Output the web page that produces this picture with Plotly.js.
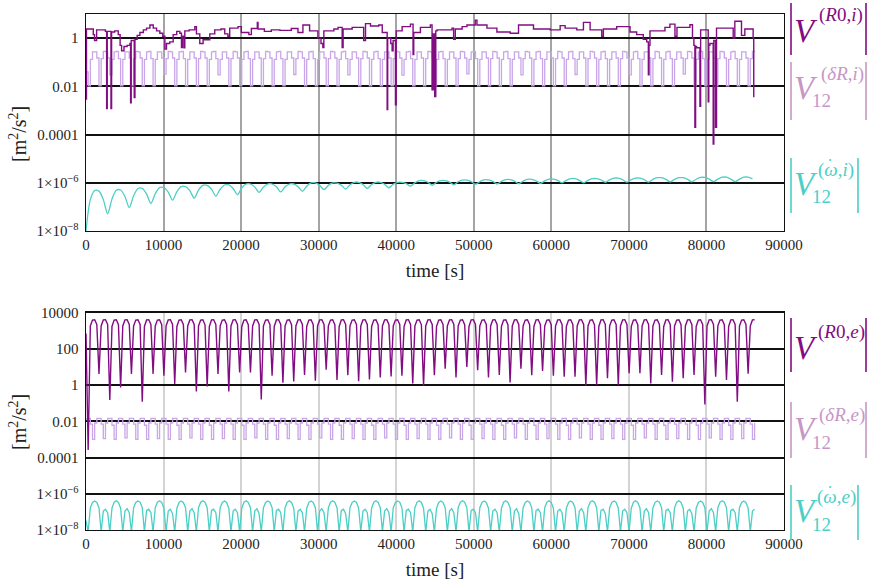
<!DOCTYPE html>
<html><head><meta charset="utf-8">
<script src="https://cdn.plot.ly/plotly-3.0.1.min.js"></script>
<style>html,body{margin:0;padding:0;background:#fff;}#chart{width:869px;height:583px;}</style>
</head><body><div id="chart"></div>
<script>
// ---------------- data ----------------
// sampling interval of the regularly sampled series [s]
const DT_FAST = 279;
const DT_SLOW = 558;

// top panel: |V^(R0,i)| (irregular times, stepped)
const tR0i = [0,60,940,1100,1370,2230,2500,2660,2740,3220,3300,3700,4160,4400,4590,4900,5300,5660,5750,5830,6220,6310,6600,6950,7400,7810,8240,8670,9100,9520,9900,10170,10380,10800,11240,11700,12100,12310,12450,12650,12740,13300,14030,14240,14670,15100,15960,16600,17400,17890,18300,18530,19600,20030,21000,21320,22090,22180,23000,23890,25000,26470,27330,27970,28830,29900,30300,30540,30670,31960,32500,33030,33150,34320,35390,35800,36040,36680,37750,38200,38830,38900,39300,39470,39600,39900,40000,40760,41830,42170,42260,43120,44400,44620,44800,44960,45100,45260,47190,47400,47620,48500,49120,50190,50410,51700,52980,54700,55770,57700,59850,61140,61780,63280,64140,65000,66500,66710,68430,70150,71000,71860,72300,72510,72600,72720,74650,75290,75940,76200,77870,78200,78380,78510,78600,78730,79160,79250,80010,80230,80300,80440,80870,80950,81170,81300,82160,83450,83660,84520,84950,86020,86100];
const vR0i = [0.003,2.4,1.4,0.8,2.2,2.2,1.9,0.0012,1.9,0.0012,1.8,2.0,1.4,0.5,0.3,0.45,0.5,0.6,0.0021,0.8,0.0034,0.9,1.3,1.7,2.2,2.6,3.5,2.6,2.0,1.6,1.2,0.35,0.6,0.7,1.4,1.9,1.6,0.41,1.2,0.4,2.0,2.2,3.0,1.5,0.6,0.85,1.5,2.2,2.4,1.5,1.2,2.6,3.0,1.7,1.4,2.5,4.5,2.4,1.9,2.2,2.1,2.5,1.7,3.5,2.0,1.0,0.6,0.41,2.0,2.4,2.8,0.41,2.4,2.8,2.8,0.8,4.0,3.2,3.5,1.7,0.0011,1.0,0.6,0.3,0.8,0.0017,2.0,3.0,3.8,0.21,1.7,2.8,3.5,0.0072,1.5,0.0038,2.0,2.2,2.6,0.9,2.4,3.0,3.5,5.5,3.5,2.6,1.8,1.6,3.5,2.4,2.2,3.3,2.6,2.2,4.5,2.2,1.2,2.4,3.0,1.8,1.4,0.9,0.7,0.03,0.5,2.0,2.8,3.8,1.2,2.8,3.6,1.0,0.5,0.0002,0.45,0.4,0.0015,2.2,2.2,0.0023,0.5,0.6,0.00004,0.8,0.0002,2.6,2.6,1.0,5.0,1.3,2.4,1.0,0.0035];

// top panel: |V12^(dR,i)| sampled every DT_FAST
const vdRi = [0.04,
0.0105,0.13,0.27,0.27,0.15, 0.0105,0.14,0.28,0.27,0.15, 0.03,0.13,0.27,0.28,0.14, 0.0105,0.13,0.27,0.27,0.15,
0.0105,0.14,0.28,0.27,0.15, 0.0105,0.13,0.27,0.28,0.14, 0.0105,0.13,0.27,0.27,0.15, 0.032,0.14,0.28,0.27,0.15,
0.0105,0.13,0.27,0.28,0.14, 0.0105,0.13,0.27,0.27,0.15, 0.0105,0.14,0.28,0.27,0.15, 0.0105,0.13,0.27,0.28,0.14,
0.03,0.13,0.27,0.27,0.15, 0.0105,0.14,0.28,0.27,0.15, 0.0105,0.13,0.27,0.28,0.14, 0.0105,0.13,0.27,0.27,0.15,
0.0105,0.14,0.28,0.27,0.15, 0.0105,0.13,0.27,0.28,0.14, 0.0105,0.13,0.27,0.27,0.15, 0.031,0.14,0.28,0.27,0.15,
0.0105,0.13,0.27,0.28,0.14, 0.0105,0.13,0.27,0.27,0.15, 0.0105,0.14,0.28,0.27,0.15, 0.0105,0.13,0.27,0.28,0.14,
0.03,0.13,0.27,0.27,0.15, 0.0105,0.14,0.28,0.27,0.15, 0.0105,0.13,0.27,0.28,0.14, 0.0105,0.13,0.27,0.27,0.15,
0.0105,0.14,0.28,0.27,0.15, 0.029,0.13,0.27,0.28,0.14, 0.0105,0.13,0.27,0.27,0.15, 0.0105,0.14,0.28,0.27,0.15,
0.0105,0.13,0.27,0.28,0.14, 0.0105,0.13,0.27,0.27,0.15, 0.0105,0.14,0.28,0.27,0.15, 0.033,0.13,0.27,0.28,0.14,
0.0105,0.13,0.27,0.27,0.15, 0.0105,0.14,0.28,0.27,0.15, 0.0105,0.13,0.27,0.28,0.14, 0.0105,0.13,0.27,0.27,0.15,
0.03,0.14,0.28,0.27,0.15, 0.0105,0.13,0.27,0.28,0.14, 0.0105,0.13,0.27,0.27,0.15, 0.0105,0.14,0.28,0.27,0.15,
0.0105,0.13,0.27,0.28,0.14, 0.031,0.13,0.27,0.27,0.15, 0.0105,0.14,0.28,0.27,0.15, 0.0105,0.13,0.27,0.28,0.14,
0.0105,0.13,0.27,0.27,0.15, 0.0105,0.14,0.28,0.27,0.15, 0.03,0.13,0.27,0.28,0.14, 0.0105,0.13,0.27,0.27,0.15,
0.0105,0.14,0.28,0.27,0.15, 0.0105,0.13,0.27,0.28,0.14, 0.0105,0.13,0.27,0.27,0.15, 0.032,0.14,0.28,0.27,0.15,
0.0105,0.13,0.27,0.28,0.14, 0.0105,0.13,0.27,0.27,0.15, 0.0105,0.14,0.28,0.27,0.15, 0.0105,0.13,0.27,0.28,0.14,
0.0105,0.13,0.27,0.27,0.15, 0.0105,0.14,0.28,0.27];

// top panel: |V12^(w,i)| sampled every DT_SLOW
const vwI = [1e-8,2.0e-7,4.8e-7,4.5e-7,2.0e-7,
5.2e-8,2.1e-7,4.9e-7,5.0e-7,2.7e-7, 9.3e-8,2.9e-7,5.8e-7,5.9e-7,3.4e-7,
1.4e-7,3.5e-7,6.3e-7,6.3e-7,4.1e-7, 1.9e-7,4.3e-7,6.9e-7,6.9e-7,4.7e-7,
2.3e-7,5.0e-7,7.8e-7,7.8e-7,5.4e-7, 2.8e-7,5.4e-7,8.1e-7,8.1e-7,5.8e-7,
3.2e-7,6.2e-7,8.9e-7,8.9e-7,6.6e-7, 4.0e-7,6.6e-7,8.9e-7,8.9e-7,6.8e-7,
4.2e-7,6.8e-7,8.9e-7,8.9e-7,6.9e-7, 4.4e-7,7.2e-7,9.8e-7,9.8e-7,7.8e-7,
5.2e-7,7.8e-7,9.8e-7,9.7e-7,7.9e-7, 5.5e-7,8.3e-7,1.05e-6,1.05e-6,8.5e-7,
5.8e-7,8.5e-7,1.05e-6,1.05e-6,8.7e-7, 6.2e-7,8.7e-7,1.05e-6,1.05e-6,9.3e-7,
7.2e-7,1.0e-6,1.23e-6,1.23e-6,1.05e-6, 7.9e-7,1.05e-6,1.23e-6,1.23e-6,1.07e-6,
8.3e-7,1.1e-6,1.29e-6,1.29e-6,1.12e-6, 8.7e-7,1.12e-6,1.32e-6,1.32e-6,1.15e-6,
8.9e-7,1.15e-6,1.35e-6,1.35e-6,1.17e-6, 9.1e-7,1.17e-6,1.38e-6,1.38e-6,1.2e-6,
9.5e-7,1.2e-6,1.41e-6,1.41e-6,1.26e-6, 1.0e-6,1.26e-6,1.48e-6,1.48e-6,1.26e-6,
1.0e-6,1.26e-6,1.48e-6,1.48e-6,1.32e-6, 1.05e-6,1.32e-6,1.55e-6,1.55e-6,1.35e-6,
1.07e-6,1.35e-6,1.55e-6,1.55e-6,1.35e-6, 1.07e-6,1.38e-6,1.62e-6,1.62e-6,1.38e-6,
1.1e-6,1.38e-6,1.62e-6,1.62e-6,1.38e-6, 1.1e-6,1.4e-6,1.66e-6,1.66e-6,1.41e-6,
1.12e-6,1.41e-6,1.7e-6,1.7e-6,1.41e-6, 1.12e-6,1.41e-6,1.7e-6,1.7e-6,1.45e-6];

// bottom panel: |V^(R0,e)| sampled every DT_FAST
const vR0e = [700,
0.00026,1800,3800,4000,2200, 4.1,1800,3900,4000,2200, 0.15,1700,3800,4000,2100, 0.74,1800,3900,4000,2200,
4.1,1800,3800,4000,2200, 0.12,1700,3900,4000,2200, 4.1,1800,3800,4000,2100, 3.2,1800,3900,4000,2200,
1.15,1700,3800,4000,2200, 4.9,1800,3900,4000,2200, 0.44,1800,3800,4000,2100, 0.82,1700,3900,4000,2200,
4.1,1800,3800,4000,2200, 0.44,1800,3900,4000,2200, 4.9,1700,3800,4000,2100, 4.9,1800,3900,4000,2200,
0.16,1800,3800,4000,2200, 3.2,1700,3900,4000,2200, 1.35,1800,3800,4000,2100, 1.55,1800,3900,4000,2200,
3.6,1700,3800,4000,2200, 1.7,1800,3900,4000,2200, 6.9,1800,3800,4000,2100, 1.9,1700,3900,4000,2200,
3.5,1800,3800,4000,2200, 1.6,1800,3900,4000,2200, 2.0,1700,3800,4000,2100, 2.6,1800,3900,4000,2200,
3.0,1800,3800,4000,2200, 3.3,1700,3900,4000,2200, 1.2,1800,3800,4000,2100, 0.9,1800,3900,4000,2200,
3.5,1700,3800,4000,2200, 8,1800,3900,4000,2200, 2.6,1800,3800,4000,2100, 10,1700,3900,4000,2200,
6.5,1800,3800,4000,2200, 2.6,1800,3900,4000,2200, 3.6,1700,3800,4000,2100, 1.4,1800,3900,4000,2200,
8,1800,3800,4000,2200, 3.5,1700,3900,4000,2200, 6,1800,3800,4000,2100, 3.2,1800,3900,4000,2200,
2.9,1700,3800,4000,2200, 2.9,1800,3900,4000,2200, 0.9,1800,3800,4000,2100, 1.0,1700,3900,4000,2200,
2.4,1800,3800,4000,2200, 1.0,1800,3900,4000,2200, 4.5,1700,3800,4000,2100, 4.5,1800,3900,4000,2200,
1.2,1800,3800,4000,2200, 3.6,1700,3900,4000,2200, 1.5,1800,3800,4000,2100, 2.4,1800,3900,4000,2200,
3.6,1700,3800,4000,2200, 0.083,1800,3900,4000,2200, 2.9,1800,3800,4000,2100, 1.9,1700,3900,4000,2200,
0.12,1800,3800,4000,2200, 4.2,1800,3900,4000];

// bottom panel: |V12^(dR,e)| sampled every DT_FAST
const vdRe = [0.014,
0.0145,0.007,0.001,0.008,0.0145, 0.0145,0.007,0.0011,0.008,0.0145, 0.0145,0.006,0.001,0.008,0.0145, 0.0145,0.007,0.0012,0.008,0.0145,
0.0145,0.007,0.001,0.008,0.0145, 0.0145,0.006,0.001,0.008,0.0145, 0.0145,0.007,0.0011,0.008,0.0145, 0.0145,0.007,0.001,0.008,0.0145,
0.0145,0.006,0.001,0.008,0.0145, 0.0145,0.007,0.0012,0.008,0.0145, 0.0145,0.007,0.001,0.008,0.0145, 0.0145,0.006,0.001,0.008,0.0145,
0.0145,0.007,0.0011,0.008,0.0145, 0.0145,0.007,0.001,0.008,0.0145, 0.0145,0.006,0.001,0.008,0.0145, 0.0145,0.007,0.0012,0.008,0.0145,
0.0145,0.007,0.001,0.008,0.0145, 0.0145,0.006,0.001,0.008,0.0145, 0.0145,0.007,0.0011,0.008,0.0145, 0.0145,0.007,0.001,0.008,0.0145,
0.0145,0.006,0.001,0.008,0.0145, 0.0145,0.007,0.0012,0.008,0.0145, 0.0145,0.007,0.001,0.008,0.0145, 0.0145,0.006,0.001,0.008,0.0145,
0.0145,0.007,0.0011,0.008,0.0145, 0.0145,0.007,0.001,0.008,0.0145, 0.0145,0.006,0.001,0.008,0.0145, 0.0145,0.007,0.0012,0.008,0.0145,
0.0145,0.007,0.001,0.008,0.0145, 0.0145,0.006,0.001,0.008,0.0145, 0.0145,0.007,0.0011,0.008,0.0145, 0.0145,0.007,0.001,0.008,0.0145,
0.0145,0.006,0.001,0.008,0.0145, 0.0145,0.007,0.0012,0.008,0.0145, 0.0145,0.007,0.001,0.008,0.0145, 0.0145,0.006,0.001,0.008,0.0145,
0.0145,0.007,0.0011,0.008,0.0145, 0.0145,0.007,0.001,0.008,0.0145, 0.0145,0.006,0.001,0.008,0.0145, 0.0145,0.007,0.0012,0.008,0.0145,
0.0145,0.007,0.001,0.008,0.0145, 0.0145,0.006,0.001,0.008,0.0145, 0.0145,0.007,0.0011,0.008,0.0145, 0.0145,0.007,0.001,0.008,0.0145,
0.0145,0.006,0.001,0.008,0.0145, 0.0145,0.007,0.0012,0.008,0.0145, 0.0145,0.007,0.001,0.008,0.0145, 0.0145,0.006,0.001,0.008,0.0145,
0.0145,0.007,0.0011,0.008,0.0145, 0.0145,0.007,0.001,0.008,0.0145, 0.0145,0.006,0.001,0.008,0.0145, 0.0145,0.007,0.0012,0.008,0.0145,
0.0145,0.007,0.001,0.008,0.0145, 0.0145,0.006,0.001,0.008,0.0145, 0.0145,0.007,0.0011,0.008,0.0145, 0.0145,0.007,0.001,0.008,0.0145,
0.0145,0.006,0.001,0.008,0.0145, 0.0145,0.007,0.0012,0.008,0.0145, 0.0145,0.007,0.001,0.008,0.0145, 0.0145,0.006,0.001,0.008,0.0145,
0.0145,0.007,0.0011,0.008,0.0145, 0.0145,0.007,0.001,0.008];

// bottom panel: |V12^(w,e)| sampled every DT_FAST
const vwE = [3.3e-8,
8e-9,1.7e-7,3.3e-7,4.0e-7,3.3e-7,1.7e-7,8e-9,1.1e-7,1.4e-7,9e-8,
8e-9,1.6e-7,3.4e-7,4.1e-7,3.3e-7,1.6e-7,8e-9,1.1e-7,1.5e-7,9e-8,
8e-9,1.7e-7,3.3e-7,4.0e-7,3.4e-7,1.7e-7,8e-9,1.2e-7,1.4e-7,9e-8,
8e-9,1.7e-7,3.4e-7,4.1e-7,3.3e-7,1.6e-7,8e-9,1.1e-7,1.4e-7,8e-8,
8e-9,1.6e-7,3.3e-7,4.0e-7,3.3e-7,1.7e-7,8e-9,1.1e-7,1.5e-7,9e-8,
8e-9,1.7e-7,3.4e-7,4.1e-7,3.4e-7,1.7e-7,8e-9,1.2e-7,1.4e-7,9e-8,
8e-9,1.7e-7,3.3e-7,4.0e-7,3.3e-7,1.6e-7,8e-9,1.1e-7,1.4e-7,9e-8,
8e-9,1.6e-7,3.4e-7,4.1e-7,3.3e-7,1.7e-7,8e-9,1.1e-7,1.5e-7,8e-8,
8e-9,1.7e-7,3.3e-7,4.0e-7,3.4e-7,1.7e-7,8e-9,1.2e-7,1.4e-7,9e-8,
8e-9,1.7e-7,3.4e-7,4.1e-7,3.3e-7,1.6e-7,8e-9,1.1e-7,1.4e-7,9e-8,
8e-9,1.6e-7,3.3e-7,4.0e-7,3.3e-7,1.7e-7,8e-9,1.1e-7,1.5e-7,9e-8,
8e-9,1.7e-7,3.4e-7,4.1e-7,3.4e-7,1.7e-7,8e-9,1.2e-7,1.4e-7,8e-8,
8e-9,1.7e-7,3.3e-7,4.0e-7,3.3e-7,1.6e-7,8e-9,1.1e-7,1.4e-7,9e-8,
8e-9,1.6e-7,3.4e-7,4.1e-7,3.3e-7,1.7e-7,8e-9,1.1e-7,1.5e-7,9e-8,
8e-9,1.7e-7,3.3e-7,4.0e-7,3.4e-7,1.7e-7,8e-9,1.2e-7,1.4e-7,9e-8,
8e-9,1.7e-7,3.4e-7,4.1e-7,3.3e-7,1.6e-7,8e-9,1.1e-7,1.4e-7,8e-8,
8e-9,1.6e-7,3.3e-7,4.0e-7,3.3e-7,1.7e-7,8e-9,1.1e-7,1.5e-7,9e-8,
8e-9,1.7e-7,3.4e-7,4.1e-7,3.4e-7,1.7e-7,8e-9,1.2e-7,1.4e-7,9e-8,
8e-9,1.7e-7,3.3e-7,4.0e-7,3.3e-7,1.6e-7,8e-9,1.1e-7,1.4e-7,9e-8,
8e-9,1.6e-7,3.4e-7,4.1e-7,3.3e-7,1.7e-7,8e-9,1.1e-7,1.5e-7,8e-8,
8e-9,1.7e-7,3.3e-7,4.0e-7,3.4e-7,1.7e-7,8e-9,1.2e-7,1.4e-7,9e-8,
8e-9,1.7e-7,3.4e-7,4.1e-7,3.3e-7,1.6e-7,8e-9,1.1e-7,1.4e-7,9e-8,
8e-9,1.6e-7,3.3e-7,4.0e-7,3.3e-7,1.7e-7,8e-9,1.1e-7,1.5e-7,9e-8,
8e-9,1.7e-7,3.4e-7,4.1e-7,3.4e-7,1.7e-7,8e-9,1.2e-7,1.4e-7,8e-8,
8e-9,1.7e-7,3.3e-7,4.0e-7,3.3e-7,1.6e-7,8e-9,1.1e-7,1.4e-7,9e-8,
8e-9,1.6e-7,3.4e-7,4.1e-7,3.3e-7,1.7e-7,8e-9,1.1e-7,1.5e-7,9e-8,
8e-9,1.7e-7,3.3e-7,4.0e-7,3.4e-7,1.7e-7,8e-9,1.2e-7,1.4e-7,9e-8,
8e-9,1.7e-7,3.4e-7,4.1e-7,3.3e-7,1.6e-7,8e-9,1.1e-7,1.4e-7,8e-8,
8e-9,1.6e-7,3.3e-7,4.0e-7,3.3e-7,1.7e-7,8e-9,1.1e-7,1.5e-7,9e-8,
8e-9,1.7e-7,3.4e-7,4.1e-7,3.4e-7,1.7e-7,8e-9,1.2e-7,1.4e-7,9e-8,
8e-9,1.7e-7,3.3e-7,4.0e-7,3.3e-7,1.6e-7,8e-9,1.1e-7,1.4e-7];

// axis ticks
const xTicks = [0,10000,20000,30000,40000,50000,60000,70000,80000,90000];
const xTickText = ['0','10000','20000','30000','40000','50000','60000','70000','80000','90000'];
const yTicksTop = [1e-8,1e-6,1e-4,1e-2,1];
const yTextTop = ['1×10<sup>−8</sup>','1×10<sup>−6</sup>','0.0001','0.01','1'];
const yTicksBot = [1e-8,1e-6,1e-4,1e-2,1,100,10000];
const yTextBot = ['1×10<sup>−8</sup>','1×10<sup>−6</sup>','0.0001','0.01','1','100','10000'];

// ---------------- drawing ----------------
const C_R0 = '#820c82', C_DR = '#c9a6e8', C_DRLAB = '#c896c6', C_W = '#4ccfc6';
const FONT = 'Liberation Serif';
const times = (arr, dt) => arr.map((_, i) => i * dt);

const traces = [
  {x: times(vdRi, DT_FAST), y: vdRi, xaxis:'x', yaxis:'y', mode:'lines', line:{color:C_DR, width:1.3, shape:'hv'}},
  {x: times(vwI, DT_SLOW), y: vwI, xaxis:'x', yaxis:'y', mode:'lines', line:{color:C_W, width:1.3, shape:'spline', smoothing:0.8}},
  {x: tR0i, y: vR0i, xaxis:'x', yaxis:'y', mode:'lines', line:{color:C_R0, width:1.4, shape:'hv'}},
  {x: times(vdRe, DT_FAST), y: vdRe, xaxis:'x2', yaxis:'y2', mode:'lines', line:{color:C_DR, width:1.3, shape:'hv'}},
  {x: times(vwE, DT_FAST), y: vwE, xaxis:'x2', yaxis:'y2', mode:'lines', line:{color:C_W, width:1.3}},
  {x: times(vR0e, DT_FAST), y: vR0e, xaxis:'x2', yaxis:'y2', mode:'lines', line:{color:C_R0, width:1.4}}
];

const PL = 86, PR = 784, PT = 14, PB = 530;
const px = v => (v - PL) / (PR - PL);
const py = v => (PB - v) / (PB - PT);

function xAx(anchor, grid) {
  return {anchor: anchor, domain:[0,1], range:[0,90000], tickmode:'array', tickvals:xTicks, ticktext:xTickText,
    showgrid:true, gridcolor:grid, gridwidth:2, zeroline:false, showline:true, mirror:true,
    linecolor:'#111', linewidth:1.4, ticks:'',
    tickfont:{family:FONT, size:15, color:'#222'},
    title:{text:'time [s]', font:{family:FONT, size:19, color:'#222'}, standoff:11}};
}
function yAx(anchor, dom, rng, tv, tt) {
  return {anchor: anchor, domain:dom, type:'log', range:rng, tickmode:'array', tickvals:tv, ticktext:tt,
    showgrid:true, gridcolor:'#111', gridwidth:2, zeroline:false, showline:true, mirror:true,
    linecolor:'#111', linewidth:1.4, ticks:'outside', ticklen:3, tickcolor:'rgba(0,0,0,0)',
    tickfont:{family:FONT, size:15, color:'#222'}};
}

const ann = [];
const shapes = [];
function addLabel(col, supTxt, hasSub, hasDot, vY, supX, supY, subY, barTop, barBot, barRight) {
  ann.push({xref:'paper', yref:'paper', x:px(806), y:py(vY), text:'<i>V</i>', showarrow:false,
    font:{family:FONT, size:33, color:col}, xanchor:'center', yanchor:'middle'});
  ann.push({xref:'paper', yref:'paper', x:px(supX), y:py(supY), text:supTxt, showarrow:false,
    font:{family:FONT, size:19, color:col}, xanchor:'center', yanchor:'middle'});
  if (hasDot) ann.push({xref:'paper', yref:'paper', x:px(supX - 6), y:py(supY - 4), text:'˙', showarrow:false,
    font:{family:FONT, size:18, color:col}, xanchor:'center', yanchor:'middle'});
  if (hasSub) ann.push({xref:'paper', yref:'paper', x:px(821), y:py(subY), text:'12', showarrow:false,
    font:{family:FONT, size:19, color:col}, xanchor:'center', yanchor:'middle'});
  [791, barRight].forEach(bx => shapes.push({type:'line', xref:'paper', yref:'paper',
    x0:px(bx), x1:px(bx), y0:py(barTop), y1:py(barBot), line:{color:col, width:1.6}}));
}
addLabel(C_R0, '(<i>R</i>0,<i>i</i>)', false, false, 31, 841, 15, 0, 3, 55, 866);
addLabel(C_DRLAB, '(<i>δR</i>,<i>i</i>)', true, false, 88, 842, 74, 101, 62, 120, 866);
addLabel(C_W, '(<i>ω</i>,<i>i</i>)', true, true, 184, 836, 170, 197, 158, 213, 858);
addLabel(C_R0, '(<i>R</i>0,<i>e</i>)', false, false, 348, 841, 332, 0, 318, 372, 866);
addLabel(C_DRLAB, '(<i>δR</i>,<i>e</i>)', true, false, 429, 842, 415, 442, 402, 458, 866);
addLabel(C_W, '(<i>ω</i>,<i>e</i>)', true, true, 511, 836, 497, 524, 485, 540, 858);

ann.push({xref:'paper', yref:'paper', x:px(18), y:py(134), text:'[m<sup>2</sup>/s<sup>2</sup>]', textangle:-90,
  showarrow:false, font:{family:FONT, size:20, color:'#222'}, xanchor:'center', yanchor:'middle'});
ann.push({xref:'paper', yref:'paper', x:px(18), y:py(422), text:'[m<sup>2</sup>/s<sup>2</sup>]', textangle:-90,
  showarrow:false, font:{family:FONT, size:20, color:'#222'}, xanchor:'center', yanchor:'middle'});

const layout = {
  width:869, height:583, margin:{l:PL, r:869-PR, t:PT, b:583-PB}, showlegend:false,
  paper_bgcolor:'#fff', plot_bgcolor:'#fff', font:{family:FONT},
  xaxis: xAx('y', '#a4a4a4'),
  yaxis: yAx('x', [py(231), 1], [-8, 1], yTicksTop, yTextTop),
  xaxis2: xAx('y2', '#d4d4d4'),
  yaxis2: yAx('x2', [0, py(312.5)], [-8, 4], yTicksBot, yTextBot),
  annotations: ann, shapes: shapes
};
Plotly.newPlot('chart', traces, layout, {staticPlot:true, displayModeBar:false});
</script></body></html>
